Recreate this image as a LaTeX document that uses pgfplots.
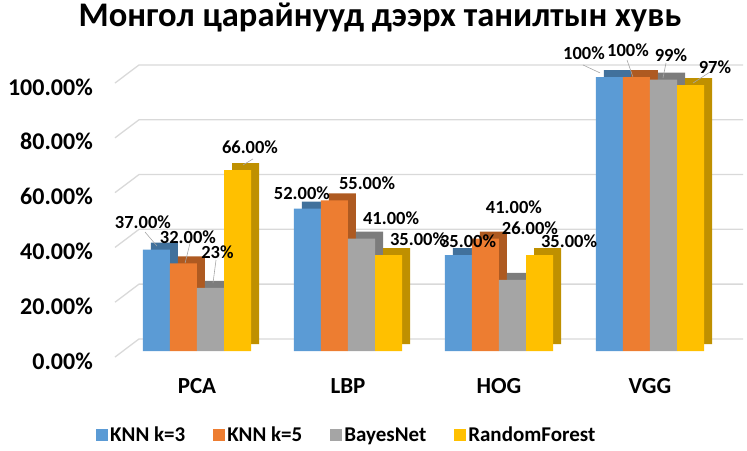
\documentclass[border=0pt]{standalone}
\usepackage{pgfplots}
\pgfplotsset{compat=1.18}
\usepackage{fontspec}
\setmainfont{Carlito}
\definecolor{cA}{HTML}{5B9BD5}
\definecolor{cB}{HTML}{ED7D31}
\definecolor{cC}{HTML}{A5A5A5}
\definecolor{cD}{HTML}{FFC000}
\definecolor{cAd}{HTML}{41719C}
\definecolor{cBd}{HTML}{AE5A21}
\definecolor{cCd}{HTML}{7C7C7C}
\definecolor{cDd}{HTML}{BF9000}
\definecolor{gridc}{HTML}{D9D9D9}
\definecolor{leadc}{HTML}{A6A6A6}
\newcommand{\lgap}{\rule{26pt}{0pt}}
\begin{document}
\begin{tikzpicture}
\useasboundingbox (-115pt,-99pt) rectangle (632pt,351pt);
\begin{axis}[
  at={(0pt,0pt)}, anchor=south west,
  scale only axis, width=628pt, height=274pt,
  xmin=-0.543, xmax=3.616, ymin=0, ymax=100,
  clip=false,
  axis line style={draw=none},
  major tick length=0pt,
  xtick={0,1,2,3}, xticklabels={PCA,LBP,HOG,VGG},
  xticklabel style={font=\bfseries\fontsize{23}{23}\selectfont, anchor=base, yshift=-42pt, inner sep=0pt},
  ytick={0,20,40,60,80,100},
  yticklabels={0.00\%,20.00\%,40.00\%,60.00\%,80.00\%,100.00\%},
  yticklabel style={font=\bfseries\fontsize{24}{24}\selectfont, anchor=east, inner sep=0pt, xshift=-22pt, yshift=-10pt},
  title={Монгол царайнууд дээрх танилтын хувь},
  title style={at={(0.422,1.161)}, anchor=base, font=\bfseries\fontsize{34.5}{34.5}\selectfont, inner sep=0pt},
  legend columns=4,
  legend style={at={(0.369,-0.307)}, anchor=center, draw=none, fill=none,
    font=\bfseries\fontsize{21}{21}\selectfont},
  legend image code/.code={\fill[#1] (0pt,-6pt) rectangle (12pt,6pt);},
]
% back-wall gridlines
\addplot[forget plot, gridc, line width=1.3pt] coordinates {(-0.543,-2.2)(-0.384,4.4)(3.616,4.4)};
\addplot[forget plot, gridc, line width=1.3pt] coordinates {(-0.543,17.8)(-0.384,24.4)(3.616,24.4)};
\addplot[forget plot, gridc, line width=1.3pt] coordinates {(-0.543,37.8)(-0.384,44.4)(3.616,44.4)};
\addplot[forget plot, gridc, line width=1.3pt] coordinates {(-0.543,57.8)(-0.384,64.4)(3.616,64.4)};
\addplot[forget plot, gridc, line width=1.3pt] coordinates {(-0.543,77.8)(-0.384,84.4)(3.616,84.4)};
\addplot[forget plot, gridc, line width=1.3pt] coordinates {(-0.543,97.8)(-0.384,104.4)(3.616,104.4)};
% KNN k=3
\addplot[forget plot, ybar, bar width=0.179, bar shift=-0.2685, fill=cAd, draw=none, xshift=8pt, yshift=7pt] coordinates {(0,37)(1,52)(2,35)(3,100)};
\addplot[ybar, bar width=0.179, bar shift=-0.2685, fill=cA, draw=none] coordinates {(0,37)(1,52)(2,35)(3,100)};
\addlegendentry{KNN k=3\lgap}
% KNN k=5
\addplot[forget plot, ybar, bar width=0.179, bar shift=-0.0895, fill=cBd, draw=none, xshift=8pt, yshift=7pt] coordinates {(0,32)(1,55)(2,41)(3,100)};
\addplot[ybar, bar width=0.179, bar shift=-0.0895, fill=cB, draw=none] coordinates {(0,32)(1,55)(2,41)(3,100)};
\addlegendentry{KNN k=5\lgap}
% BayesNet
\addplot[forget plot, ybar, bar width=0.179, bar shift=0.0895, fill=cCd, draw=none, xshift=8pt, yshift=7pt] coordinates {(0,23)(1,41)(2,26)(3,99)};
\addplot[ybar, bar width=0.179, bar shift=0.0895, fill=cC, draw=none] coordinates {(0,23)(1,41)(2,26)(3,99)};
\addlegendentry{BayesNet\lgap}
% RandomForest
\addplot[forget plot, ybar, bar width=0.179, bar shift=0.2685, fill=cDd, draw=none, xshift=8pt, yshift=7pt] coordinates {(0,66)(1,35)(2,35)(3,97)};
\addplot[ybar, bar width=0.179, bar shift=0.2685, fill=cD, draw=none] coordinates {(0,66)(1,35)(2,35)(3,97)};
\addlegendentry{RandomForest}
% leader lines
\addplot[forget plot, leadc, line width=0.6pt] coordinates {(-0.344,43.4)(-0.265,38.3)};
\addplot[forget plot, leadc, line width=0.6pt] coordinates {(-0.046,39.4)(-0.079,32.1)};
\addplot[forget plot, leadc, line width=0.6pt] coordinates {(0.126,33.2)(0.106,24.8)};
\addplot[forget plot, leadc, line width=0.6pt] coordinates {(0.371,70.1)(0.305,67.9)};
\addplot[forget plot, leadc, line width=0.6pt] coordinates {(2.556,104.4)(2.669,101.5)};
\addplot[forget plot, leadc, line width=0.6pt] coordinates {(2.848,106.2)(2.887,100.0)};
\addplot[forget plot, leadc, line width=0.6pt] coordinates {(3.106,105.1)(3.086,99.6)};
\addplot[forget plot, leadc, line width=0.6pt] coordinates {(3.397,101.8)(3.285,97.8)};
% data labels
\addplot[forget plot, draw=none, nodes near coords, point meta=explicit symbolic,
  every node near coord/.append style={font=\bfseries\fontsize{18.5}{18.5}\selectfont, anchor=center, inner sep=0pt}]
  coordinates {
  (-0.358,47.1) [37.00\%]
  (-0.060,41.6) [32.00\%]
  (0.135,36.2) [23\%]
  (0.351,74.5) [66.00\%]
  (0.695,57.7) [52.00\%]
  (1.126,61.3) [55.00\%]
  (1.285,48.5) [41.00\%]
  (1.464,40.9) [35.00\%]
  (1.795,40.1) [35.00\%]
  (2.099,52.6) [41.00\%]
  (2.205,44.9) [26.00\%]
  (2.464,40.1) [35.00\%]
  (2.563,108.8) [100\%]
  (2.854,109.9) [100\%]
  (3.139,108.0) [99\%]
  (3.430,103.6) [97\%]
  };
\end{axis}
\end{tikzpicture}
\end{document}
